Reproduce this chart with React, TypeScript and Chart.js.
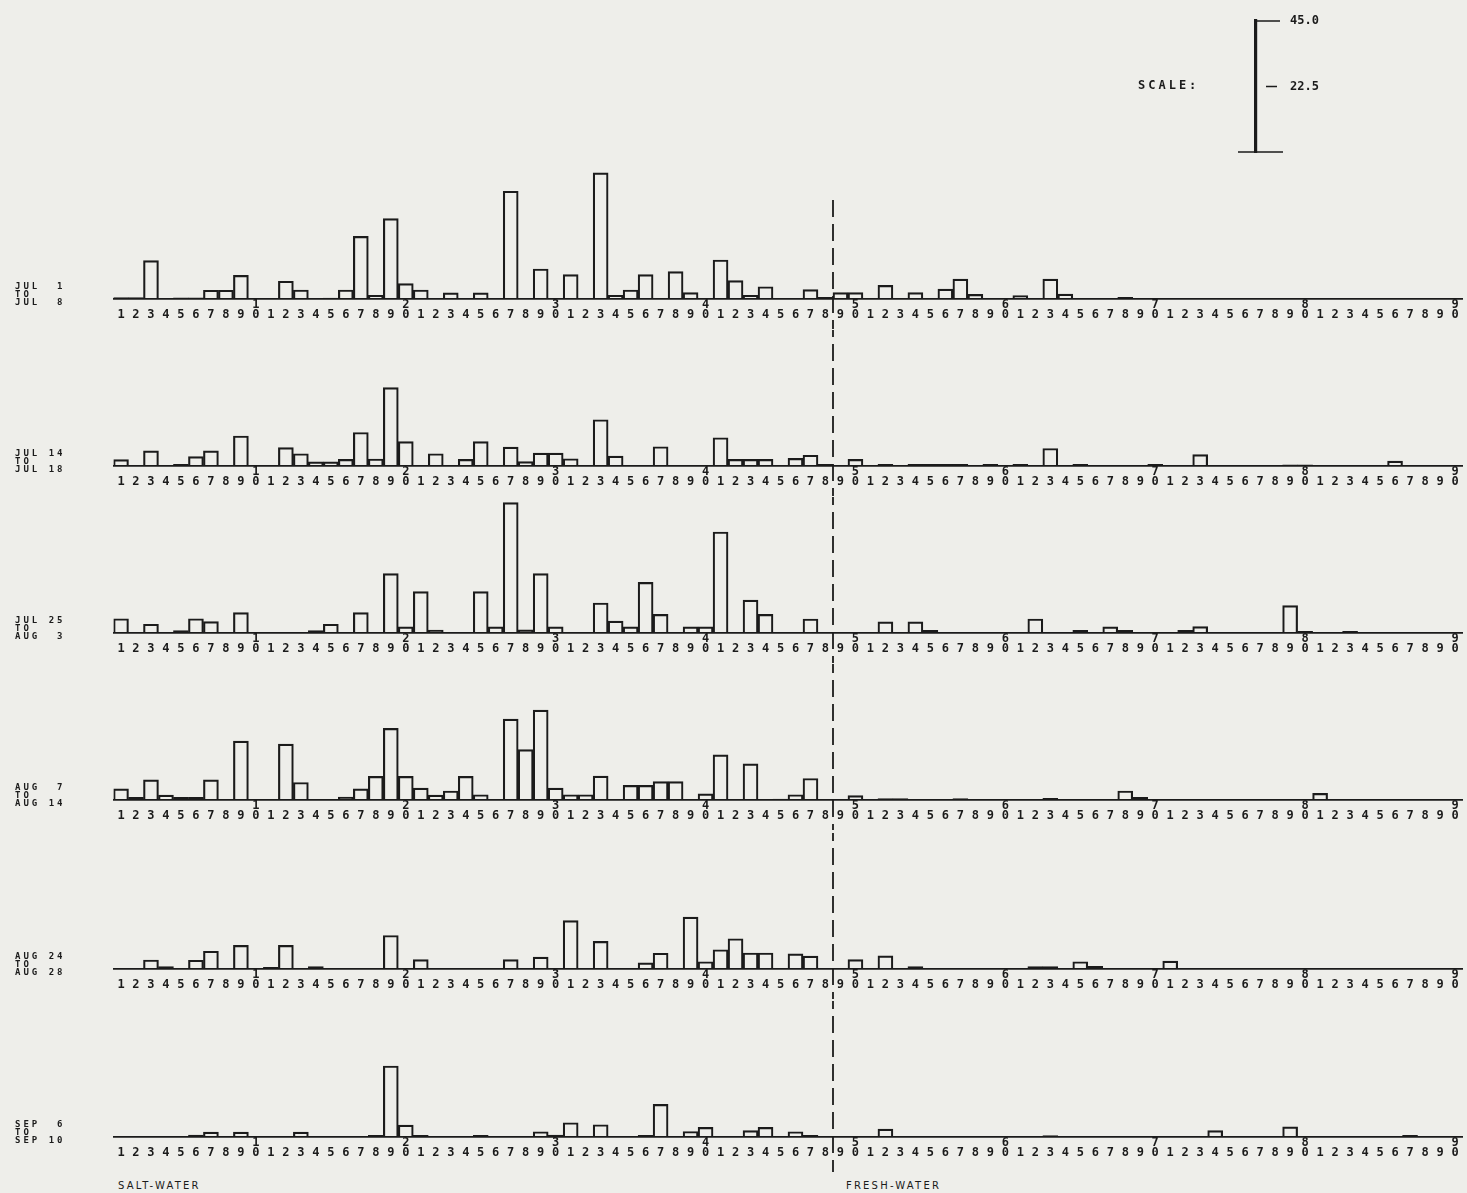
import React, { useEffect, useRef } from 'react';
import { Chart, registerables } from 'chart.js';

Chart.register(...registerables);

// ---------- DATA ----------
// 90 bins per period (labelled 1..9,0 with the tens digit above every 0)
const BIN_NUMBERS: number[] = Array.from({ length: 90 }, (_, i) => i + 1);

const PERIOD_LABELS: string[][] = [
  ['JUL  1', 'TO', 'JUL  8'],
  ['JUL 14', 'TO', 'JUL 18'],
  ['JUL 25', 'TO', 'AUG  3'],
  ['AUG  7', 'TO', 'AUG 14'],
  ['AUG 24', 'TO', 'AUG 28'],
  ['SEP  6', 'TO', 'SEP 10'],
];

const JUL01_JUL08 = [
  0.5, 0.5, 13.2, 0, 0.4, 0.4, 3.0, 3.0, 8.1, 0,
  0, 6.1, 3.1, 0, 0.3, 3.1, 21.5, 1.3, 27.6, 5.3,
  3.1, 0, 2.1, 0, 2.1, 0, 37.0, 0, 10.3, 0,
  8.4, 0, 43.3, 1.3, 3.1, 8.4, 0, 9.4, 2.2, 0,
  13.4, 6.3, 1.3, 4.2, 0, 0, 3.2, 0.6, 2.2, 2.2,
  0, 4.7, 0, 2.2, 0, 3.4, 6.8, 1.6, 0, 0,
  1.2, 0, 6.8, 1.7, 0, 0, 0, 0.6, 0, 0,
  0, 0, 0, 0, 0, 0, 0, 0, 0, 0,
  0, 0, 0, 0, 0, 0, 0, 0, 0, 0,
];

const JUL14_JUL18 = [
  2.2, 0, 5.2, 0, 0.6, 3.2, 5.2, 0, 10.3, 0,
  0, 6.3, 4.2, 1.4, 1.4, 2.3, 11.5, 2.4, 26.9, 8.4,
  0, 4.2, 0, 2.3, 8.4, 0, 6.5, 1.5, 4.4, 4.4,
  2.5, 0, 15.9, 3.4, 0, 0, 6.6, 0, 0, 0,
  9.7, 2.3, 2.3, 2.3, 0, 2.6, 3.7, 0.6, 0, 2.3,
  0, 0.6, 0, 0.6, 0.6, 0.6, 0.6, 0, 0.6, 0,
  0.6, 0, 6.0, 0, 0.6, 0, 0, 0, 0, 0.6,
  0, 0, 3.9, 0, 0, 0, 0, 0, 0.4, 0.4,
  0, 0, 0, 0, 0, 1.7, 0, 0, 0, 0,
];

const JUL25_AUG03 = [
  4.9, 0, 3.0, 0, 0.8, 4.9, 3.9, 0, 7.0, 0,
  0, 0, 0, 0.8, 3.0, 0, 7.0, 0, 20.4, 2.1,
  14.2, 1.0, 0, 0, 14.2, 2.1, 44.8, 1.1, 20.4, 2.1,
  0, 0, 10.3, 4.1, 2.1, 17.4, 6.4, 0, 2.1, 2.1,
  34.7, 0, 11.3, 6.4, 0, 0, 4.8, 0, 0, 0,
  0, 3.8, 0, 3.8, 0.9, 0, 0, 0, 0, 0,
  0, 4.8, 0, 0, 0.9, 0, 2.1, 0.9, 0, 0,
  0, 0.9, 2.2, 0, 0, 0, 0, 0, 9.4, 0.6,
  0, 0, 0.6, 0, 0, 0, 0, 0, 0, 0,
];

const AUG07_AUG14 = [
  3.8, 0.9, 6.9, 1.7, 0.9, 0.9, 6.9, 0, 20.2, 0,
  0, 19.2, 6.0, 0, 0, 1.0, 3.8, 8.1, 24.6, 8.1,
  4.1, 1.7, 3.1, 8.1, 1.8, 0, 27.8, 17.3, 30.9, 4.1,
  1.8, 1.8, 8.2, 0, 5.0, 5.0, 6.3, 6.3, 0, 2.1,
  15.5, 0, 12.4, 0, 0.3, 1.8, 7.4, 0, 0, 1.5,
  0, 0.5, 0.5, 0, 0, 0, 0.5, 0, 0, 0,
  0, 0, 0.6, 0, 0, 0, 0, 3.1, 0.9, 0,
  0, 0, 0, 0, 0, 0, 0, 0, 0, 0,
  2.3, 0, 0, 0, 0, 0, 0, 0, 0, 0,
];

const AUG24_AUG28 = [
  0, 0, 3.1, 0.8, 0, 3.0, 6.1, 0, 8.1, 0,
  0.6, 8.1, 0, 0.8, 0, 0, 0, 0, 11.5, 0,
  3.2, 0, 0, 0, 0, 0, 3.2, 0, 4.1, 0,
  16.6, 0, 9.5, 0, 0, 2.1, 5.4, 0, 17.8, 2.5,
  6.6, 10.4, 5.5, 5.5, 0, 5.2, 4.4, 0, 0, 3.2,
  0, 4.5, 0, 0.8, 0, 0, 0, 0, 0, 0,
  0, 0.8, 0.8, 0, 2.5, 0.9, 0, 0, 0, 0,
  2.7, 0, 0, 0, 0, 0, 0, 0, 0, 0,
  0, 0, 0, 0, 0, 0, 0, 0, 0, 0,
];

const SEP06_SEP10 = [
  0, 0, 0, 0, 0, 0.7, 1.7, 0, 1.7, 0,
  0, 0, 1.7, 0, 0, 0, 0, 0.6, 24.4, 4.1,
  0.6, 0, 0, 0, 0.6, 0, 0, 0, 1.8, 0.7,
  4.9, 0, 4.2, 0, 0, 0.6, 11.2, 0, 1.9, 3.3,
  0, 0, 2.2, 3.3, 0, 1.8, 0.6, 0, 0, 0,
  0, 2.7, 0, 0, 0, 0, 0, 0, 0, 0,
  0, 0, 0.5, 0, 0, 0, 0, 0, 0, 0,
  0, 0, 0, 2.2, 0, 0, 0, 0, 3.5, 0,
  0, 0, 0, 0, 0, 0, 0.6, 0, 0, 0,
];

const PERIOD_SERIES: number[][] = [
  JUL01_JUL08, JUL14_JUL18, JUL25_AUG03, AUG07_AUG14, AUG24_AUG28, SEP06_SEP10,
];

const SCALE_TICKS = [0, 22.5, 45];
const SCALE_MAX = 45;
// boundary between salt-water and fresh-water bins (after bin 48)
const DIVIDER_AFTER_BIN = 48;

// ---------- LAYOUT ----------
const PAGE_W = 1467;
const PAGE_H = 1193;
const BASELINES = [299, 466, 633, 800, 969, 1137];
const PLOT_H = 131; // pixels for SCALE_MAX
const AXIS_H = 30;
const INK = '#1b1b1b';
const PAPER = '#eeeeea';
const DASH_START_Y = 200;
const DASH_END_Y = 1172;
const MONO = '"DejaVu Sans Mono", monospace';

const dividerPlugin = {
  id: 'divider',
  afterDraw(chart: any, _args: any, opts: any) {
    const xs = chart.scales.x;
    const x = Math.round(
      (xs.getPixelForValue(DIVIDER_AFTER_BIN - 1) + xs.getPixelForValue(DIVIDER_AFTER_BIN)) / 2
    );
    const ctx = chart.ctx;
    const y0 = Math.max(0, opts.from - opts.pageTop);
    const y1 = Math.min(chart.height, opts.to - opts.pageTop);
    if (y1 <= y0) return;
    ctx.save();
    ctx.strokeStyle = INK;
    ctx.lineWidth = 1.8;
    ctx.setLineDash([17, 7]);
    ctx.lineDashOffset = opts.pageTop + y0 - opts.from;
    ctx.beginPath();
    ctx.moveTo(x, y0);
    ctx.lineTo(x, y1);
    ctx.stroke();
    ctx.restore();
  },
};

function RowChart({ values, baseline, last }: { values: number[]; baseline: number; last: boolean }) {
  const ref = useRef<HTMLCanvasElement>(null);
  const padTop = 5;
  const padBottom = last ? 12 : 0;
  const top = baseline - PLOT_H - padTop;
  const height = PLOT_H + padTop + AXIS_H + padBottom;
  useEffect(() => {
    const chart = new Chart(ref.current as HTMLCanvasElement, {
      type: 'bar',
      data: {
        labels: BIN_NUMBERS.map(String),
        datasets: [
          {
            data: values,
            backgroundColor: 'rgba(0,0,0,0)',
            borderColor: INK,
            borderWidth: 1.5,
            borderSkipped: 'bottom',
            categoryPercentage: 1,
            barPercentage: 1,
          } as any,
        ],
      },
      options: {
        animation: false,
        responsive: false,
        maintainAspectRatio: false,
        devicePixelRatio: 1,
        layout: { padding: { left: 113.5, right: 4.5, top: padTop, bottom: padBottom } },
        plugins: {
          legend: { display: false },
          tooltip: { enabled: false },
          divider: { pageTop: top, from: DASH_START_Y, to: DASH_END_Y },
        } as any,
        scales: {
          x: {
            type: 'category',
            offset: true,
            grid: { display: false, drawTicks: false },
            border: { display: true, color: INK, width: 1.8 },
            ticks: {
              autoSkip: false,
              maxRotation: 0,
              minRotation: 0,
              padding: 1,
              color: INK,
              font: { family: MONO, size: 12, weight: 'bold', lineHeight: 0.85 },
              callback: (_v: any, i: number) => {
                const n = BIN_NUMBERS[i];
                return n % 10 === 0 ? [String(n / 10), '0'] : ['', String(n % 10)];
              },
            },
            afterFit: (s: any) => {
              s.height = AXIS_H;
            },
          },
          y: { display: false, min: 0, max: SCALE_MAX },
        },
      } as any,
      plugins: [dividerPlugin],
    });
    return () => chart.destroy();
  }, []);
  return (
    <canvas
      ref={ref}
      width={PAGE_W}
      height={height}
      style={{ position: 'absolute', left: 0, top, width: PAGE_W, height, display: 'block' }}
    />
  );
}

const scaleDecor = {
  id: 'scaleDecor',
  afterDraw(chart: any) {
    const ys = chart.scales.y;
    const ctx = chart.ctx;
    const x = ys.left;
    ctx.save();
    ctx.strokeStyle = INK;
    ctx.lineWidth = 1.6;
    const yTop = ys.getPixelForValue(45);
    const yMid = ys.getPixelForValue(22.5);
    const yBot = ys.getPixelForValue(0);
    ctx.beginPath();
    ctx.moveTo(x, yTop);
    ctx.lineTo(x + 24, yTop);
    ctx.moveTo(x + 10, yMid);
    ctx.lineTo(x + 21, yMid);
    ctx.moveTo(x - 18, yBot);
    ctx.lineTo(x + 27, yBot);
    ctx.stroke();
    ctx.restore();
  },
};

function ScaleChart() {
  const ref = useRef<HTMLCanvasElement>(null);
  const left = 1190;
  const width = 200;
  const top = 0;
  const height = 175;
  const axisTop = 21;
  const axisX = 1256;
  useEffect(() => {
    const chart = new Chart(ref.current as HTMLCanvasElement, {
      type: 'line',
      data: { labels: [], datasets: [{ data: [] }] },
      options: {
        animation: false,
        responsive: false,
        maintainAspectRatio: false,
        devicePixelRatio: 1,
        layout: { padding: { left: 20, right: 0, top: axisTop - top, bottom: height - (axisTop + PLOT_H) } },
        plugins: { legend: { display: false }, tooltip: { enabled: false } },
        scales: {
          x: { display: false },
          y: {
            position: 'right',
            min: 0,
            max: SCALE_MAX,
            grid: { display: false },
            border: { display: true, color: INK, width: 3.2 },
            afterBuildTicks: (s: any) => {
              s.ticks = SCALE_TICKS.map((v) => ({ value: v }));
            },
            ticks: {
              padding: 26,
              color: INK,
              font: { family: MONO, size: 12, weight: 'bold' },
              callback: (v: any) => (Number(v) === 0 ? '' : Number(v).toFixed(1)),
            },
            afterFit: (s: any) => {
              s.width = width - (axisX - left);
              s.paddingTop = 0;
              s.paddingBottom = 0;
            },
          },
        },
      } as any,
      plugins: [scaleDecor],
    });
    return () => chart.destroy();
  }, []);
  return (
    <canvas
      ref={ref}
      width={width}
      height={height}
      style={{ position: 'absolute', left, top, width, height, display: 'block' }}
    />
  );
}

const textBase: React.CSSProperties = {
  position: 'absolute',
  whiteSpace: 'pre',
  color: INK,
};

export default function App() {
  return (
    <div
      style={{
        position: 'absolute',
        left: 0,
        top: 0,
        width: PAGE_W,
        height: PAGE_H,
        background: PAPER,
        overflow: 'hidden',
      }}
    >
      {PERIOD_SERIES.map((vals, i) => (
        <RowChart key={i} values={vals} baseline={BASELINES[i]} last={i === PERIOD_SERIES.length - 1} />
      ))}
      {PERIOD_LABELS.map((lines, i) => (
        <div
          key={'l' + i}
          style={{
            ...textBase,
            left: 15,
            top: BASELINES[i] - 17,
            fontFamily: MONO,
            fontWeight: 'bold',
            fontSize: 9,
            lineHeight: '8px',
            letterSpacing: '3px',
          }}
        >
          {lines.join('\n')}
        </div>
      ))}
      <ScaleChart />
      <div
        style={{
          ...textBase,
          left: 1138,
          top: 78,
          fontFamily: MONO,
          fontWeight: 'bold',
          fontSize: 12,
          letterSpacing: '3px',
        }}
      >
        SCALE:
      </div>
      <div
        style={{
          ...textBase,
          left: 118,
          top: 1180,
          fontFamily: '"DejaVu Sans", sans-serif',
          fontSize: 10,
          letterSpacing: '2.2px',
        }}
      >
        SALT-WATER
      </div>
      <div
        style={{
          ...textBase,
          left: 846,
          top: 1180,
          fontFamily: '"DejaVu Sans", sans-serif',
          fontSize: 10,
          letterSpacing: '2.2px',
        }}
      >
        FRESH-WATER
      </div>
    </div>
  );
}
